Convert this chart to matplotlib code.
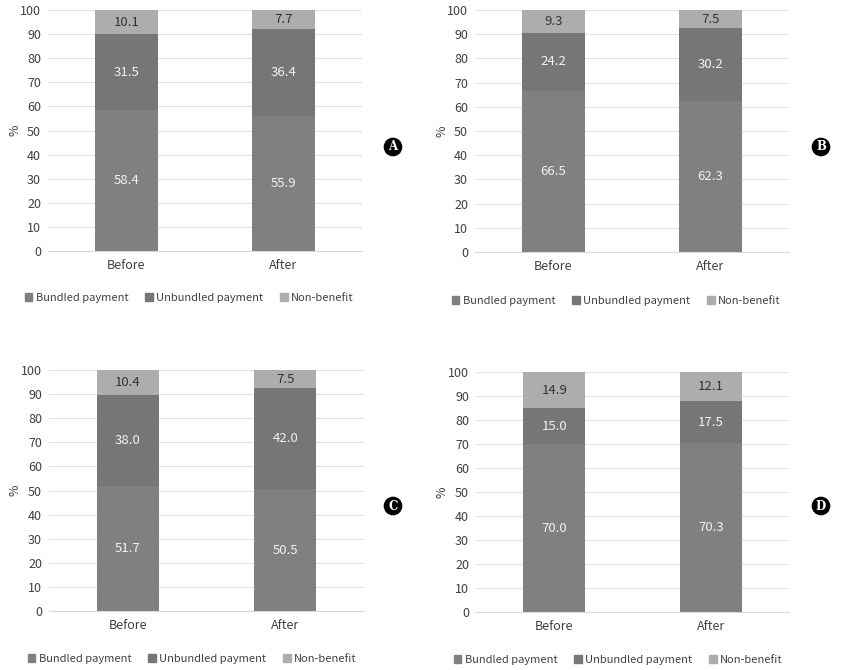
import matplotlib
matplotlib.use("Agg")
import matplotlib.pyplot as plt
import numpy as np
from matplotlib.patches import Patch

plt.rcParams["font.family"] = ["Noto Sans CJK KR", "DejaVu Sans"]

W, H = 854, 670

GROUPS = ["Before", "After"]
SERIES = ["Bundled payment", "Unbundled payment", "Non-benefit"]
COLORS = ["#808080", "#767676", "#adadad"]
TEXT_COLORS = ["#f2f2f2", "#f2f2f2", "#333333"]

A_BUNDLED = [58.4, 55.9]
A_UNBUNDLED = [31.5, 36.4]
A_NONBENEFIT = [10.1, 7.7]

B_BUNDLED = [66.5, 62.3]
B_UNBUNDLED = [24.2, 30.2]
B_NONBENEFIT = [9.3, 7.5]

C_BUNDLED = [51.7, 50.5]
C_UNBUNDLED = [38.0, 42.0]
C_NONBENEFIT = [10.4, 7.5]

D_BUNDLED = [70.0, 70.3]
D_UNBUNDLED = [15.0, 17.5]
D_NONBENEFIT = [14.9, 12.1]

# panel boxes in pixels: left, right, top, bottom, legend x, legend y, letter x, letter y, % x
PANELS = [
    ("A", (A_BUNDLED, A_UNBUNDLED, A_NONBENEFIT), (48, 362, 10, 251, 19, 298, 393, 147, 15)),
    ("B", (B_BUNDLED, B_UNBUNDLED, B_NONBENEFIT), (475, 789, 10, 252, 446, 301, 821, 147, 442)),
    ("C", (C_BUNDLED, C_UNBUNDLED, C_NONBENEFIT), (49, 364, 370, 611, 22, 659, 393, 506, 15)),
    ("D", (D_BUNDLED, D_UNBUNDLED, D_NONBENEFIT), (476, 789, 372, 612, 448, 660, 821, 506, 442)),
]

fig = plt.figure(figsize=(W / 100, H / 100), dpi=100)

for letter, series, box in PANELS:
    l, r, t, b, lx, ly, cx, cy, px = box
    ax = fig.add_axes([l / W, 1 - b / H, (r - l) / W, (b - t) / H])
    x = np.arange(len(GROUPS))
    bottom = np.zeros(len(GROUPS))
    for vals, col, tcol in zip(series, COLORS, TEXT_COLORS):
        vals = np.array(vals)
        ax.bar(x, vals, 0.395, bottom=bottom, color=col, zorder=2)
        for xi, v, b0 in zip(x, vals, bottom):
            ax.text(xi, b0 + v / 2, f"{v:.1f}", ha="center", va="center",
                    color=tcol, fontsize=9.5, zorder=3)
        bottom += vals
    ax.set_xlim(-0.5, 1.5)
    ax.set_ylim(0, 100)
    ax.set_yticks(range(0, 101, 10))
    ax.set_xticks(x)
    ax.set_xticklabels(GROUPS)
    ax.grid(axis="y", color="#e3e3e3", lw=0.8, zorder=0)
    for s in ax.spines.values():
        s.set_visible(False)
    ax.spines["bottom"].set_visible(True)
    ax.spines["bottom"].set_color("#d9d9d9")
    ax.tick_params(length=0, labelsize=9, colors="#404040", pad=5)
    ax.tick_params(axis="x", pad=6)
    fig.text(px / W, 1 - ((t + b) / 2) / H, "%", rotation=90, ha="center",
             va="center", fontsize=9, color="#404040")

    handles = [Patch(color=c) for c in COLORS]
    fig.legend(handles, SERIES, loc="center left",
               bbox_to_anchor=(lx / W, 1 - ly / H), ncol=3, frameon=False,
               fontsize=8, handlelength=0.7, handleheight=0.7,
               handletextpad=0.3, columnspacing=1.5, borderpad=0,
               labelcolor="#404040")

    fig.text(cx / W, 1 - cy / H, letter, ha="center", va="center",
             fontsize=8.5, color="white", fontweight="bold", family="DejaVu Serif",
             bbox=dict(boxstyle="circle,pad=0.18", fc="black", ec="black"))

fig.savefig("out.png", dpi=100)
